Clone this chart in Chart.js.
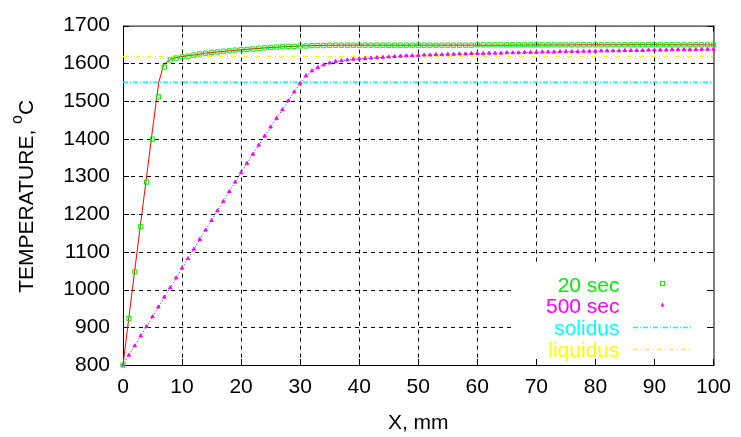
<!DOCTYPE html>
<html>
<head>
<meta charset="utf-8">
<title>Temperature profile</title>
<script src="https://cdn.jsdelivr.net/npm/chart.js@4.4.1/dist/chart.umd.min.js"></script>
<style>
    html, body { margin: 0; padding: 0; background: #fff; }
    #chart { display: block; }
</style>
</head>
<body>
<canvas id="chart" width="741" height="437"></canvas>
<script>
// Distance from the surface, mm (one reading per mm)
const positions = [
    0, 1, 2, 3, 4, 5, 6, 7, 8, 9,
    10, 11, 12, 13, 14, 15, 16, 17, 18, 19,
    20, 21, 22, 23, 24, 25, 26, 27, 28, 29,
    30, 31, 32, 33, 34, 35, 36, 37, 38, 39,
    40, 41, 42, 43, 44, 45, 46, 47, 48, 49,
    50, 51, 52, 53, 54, 55, 56, 57, 58, 59,
    60, 61, 62, 63, 64, 65, 66, 67, 68, 69,
    70, 71, 72, 73, 74, 75, 76, 77, 78, 79,
    80, 81, 82, 83, 84, 85, 86, 87, 88, 89,
    90, 91, 92, 93, 94, 95, 96, 97, 98, 99, 100
];

// Temperature after 20 sec, deg C
const temp20s = [
    800, 923, 1047, 1167, 1285, 1399, 1511, 1590, 1609, 1614,
    1617, 1619, 1622, 1625, 1627, 1629, 1630, 1632, 1633, 1635,
    1636, 1637, 1638, 1640, 1641, 1642, 1643, 1644, 1645, 1645,
    1646, 1646, 1647, 1647, 1647, 1648, 1648, 1648, 1648, 1648,
    1648, 1648, 1648, 1648, 1648, 1648, 1648, 1648, 1648, 1648,
    1648, 1648, 1648, 1648, 1648, 1648, 1648, 1648, 1648, 1648,
    1649, 1649, 1649, 1649, 1649, 1649, 1649, 1649, 1649, 1649,
    1649, 1649, 1649, 1649, 1649, 1649, 1649, 1649, 1649, 1649,
    1649, 1649, 1649, 1649, 1649, 1649, 1649, 1649, 1649, 1649,
    1649, 1649, 1649, 1649, 1649, 1649, 1649, 1649, 1649, 1649, 1649
];

// Temperature after 500 sec, deg C
const temp500s = [
    800, 826, 851, 877, 902, 928, 954, 980, 1005, 1031,
    1057, 1082, 1107, 1133, 1158, 1183, 1209, 1234, 1260, 1285,
    1310, 1335, 1359, 1383, 1407, 1431, 1454, 1477, 1501, 1524,
    1547, 1567, 1580, 1589, 1596, 1601, 1605, 1607, 1609, 1611,
    1612, 1613, 1614, 1615, 1616, 1617, 1618, 1619, 1620, 1620,
    1621, 1622, 1622, 1623, 1623, 1624, 1624, 1625, 1625, 1626,
    1626, 1626, 1627, 1627, 1627, 1628, 1628, 1628, 1629, 1629,
    1629, 1630, 1630, 1630, 1631, 1631, 1631, 1631, 1632, 1632,
    1632, 1633, 1633, 1633, 1633, 1634, 1634, 1634, 1634, 1635,
    1635, 1635, 1635, 1636, 1636, 1636, 1636, 1636, 1637, 1637, 1637
];

// Calculated curve drawn through the 20 sec readings (red line)
const curve20sX = [0, 1, 2, 3, 4, 5, 6.05, 6.9, 8.1, 9, 10, 12, 14, 16, 18, 20, 25, 30, 35, 40, 60, 80, 100];
const curve20sT = [800, 926, 1052, 1177, 1300, 1424, 1549, 1597, 1611, 1615, 1618, 1622, 1627, 1630, 1633, 1636, 1642, 1646, 1648, 1648, 1648, 1649, 1649];

// Phase change temperatures
const solidusTemp = 1550;
const liquidusTemp = 1618;

// Axis ticks
const xTicks = [0, 10, 20, 30, 40, 50, 60, 70, 80, 90, 100];
const yTicks = [800, 900, 1000, 1100, 1200, 1300, 1400, 1500, 1600, 1700];

const FONT = "'Liberation Sans', Arial, Helvetica, sans-serif";

// Build {x, y} pairs for the scatter chart
function toPoints(xs, ys) {
    return xs.map((v, i) => ({ x: v, y: ys[i] }));
}

function flatLine(temp) {
    return [{ x: xTicks[0], y: temp }, { x: xTicks[xTicks.length - 1], y: temp }];
}

// Grid, frame and inward tick marks like gnuplot
const frame = {
    id: 'frame',
    beforeDatasetsDraw(chart) {
        const { ctx, chartArea: a, scales: { x, y } } = chart;
        ctx.save();
        ctx.strokeStyle = '#000';
        ctx.lineWidth = 1;

        // dashed grid
        ctx.setLineDash([4, 4]);
        ctx.beginPath();
        xTicks.slice(1, -1).forEach(v => {
            const px = Math.round(x.getPixelForValue(v)) + 0.5;
            ctx.moveTo(px, a.top);
            ctx.lineTo(px, a.bottom);
        });
        yTicks.slice(1, -1).forEach(v => {
            const py = Math.round(y.getPixelForValue(v)) + 0.5;
            ctx.moveTo(a.left, py);
            ctx.lineTo(a.right, py);
        });
        ctx.stroke();

        // the key box hides the grid behind it
        ctx.fillStyle = '#fff';
        ctx.fillRect(514, 265, 189, 93);

        // tick marks on all four sides
        ctx.setLineDash([]);
        ctx.beginPath();
        xTicks.forEach(v => {
            const px = Math.round(x.getPixelForValue(v)) + 0.5;
            ctx.moveTo(px, a.bottom);
            ctx.lineTo(px, a.bottom - 6);
            ctx.moveTo(px, a.top);
            ctx.lineTo(px, a.top + 6);
        });
        yTicks.forEach(v => {
            const py = Math.round(y.getPixelForValue(v)) + 0.5;
            ctx.moveTo(a.left, py);
            ctx.lineTo(a.left + 6, py);
            ctx.moveTo(a.right, py);
            ctx.lineTo(a.right - 6, py);
        });
        ctx.stroke();

        // border
        ctx.strokeRect(a.left + 0.5, a.top + 0.5, a.right - a.left, a.bottom - a.top);
        ctx.restore();
    },

    afterDatasetsDraw(chart) {
        const { ctx } = chart;
        const ds = chart.data.datasets;
        ctx.save();
        ctx.font = '21px ' + FONT;
        ctx.textAlign = 'right';
        ctx.textBaseline = 'alphabetic';

        // key: text right aligned, sample on the right
        const rows = [
            { text: ds[0].label, color: ds[0].pointBorderColor, base: 291.5, mid: 283.5 },
            { text: ds[1].label, color: ds[1].pointBackgroundColor, base: 313.3, mid: 305 },
            { text: ds[4].label, color: ds[4].borderColor, base: 335, mid: 327.5 },
            { text: ds[5].label, color: ds[5].borderColor, base: 356.7, mid: 349.5 }
        ];
        rows.forEach(r => {
            ctx.fillStyle = r.color;
            ctx.fillText(r.text, 619.5, r.base);
        });

        // 20 sec sample: open square
        ctx.strokeStyle = rows[0].color;
        ctx.lineWidth = 1;
        ctx.strokeRect(660.5, 281.5, 4, 4);

        // 500 sec sample: small triangle
        ctx.fillStyle = rows[1].color;
        ctx.beginPath();
        ctx.moveTo(662.5, 302.5);
        ctx.lineTo(664.5, 306.5);
        ctx.lineTo(660.5, 306.5);
        ctx.closePath();
        ctx.fill();

        // solidus / liquidus samples
        [4, 5].forEach((k, i) => {
            const r = rows[2 + i];
            ctx.strokeStyle = r.color;
            ctx.lineWidth = ds[k].borderWidth;
            ctx.setLineDash(ds[k].borderDash);
            ctx.beginPath();
            ctx.moveTo(633, r.mid);
            ctx.lineTo(691, r.mid);
            ctx.stroke();
        });
        ctx.restore();
    },

    afterDraw(chart) {
        const { ctx, chartArea: a } = chart;
        ctx.save();
        ctx.fillStyle = '#000';
        ctx.font = '21px ' + FONT;

        // x axis title
        ctx.textAlign = 'center';
        ctx.textBaseline = 'alphabetic';
        ctx.fillText('X, mm', (a.left + a.right) / 2, 429);

        // y axis title with superscript o
        const main = 'TEMPERATURE, ';
        const sup = 'o';
        const last = 'C';
        const wMain = ctx.measureText(main).width;
        const wLast = ctx.measureText(last).width;
        ctx.font = '16px ' + FONT;
        const wSup = ctx.measureText(sup).width;
        const total = wMain + wSup + wLast;

        ctx.translate(0, (a.top + a.bottom) / 2 + 1);
        ctx.rotate(-Math.PI / 2);
        ctx.textAlign = 'left';
        let pos = -total / 2;
        ctx.font = '21px ' + FONT;
        ctx.fillText(main, pos, 33);
        pos += wMain;
        ctx.font = '16px ' + FONT;
        ctx.fillText(sup, pos, 22);
        pos += wSup;
        ctx.font = '21px ' + FONT;
        ctx.fillText(last, pos, 33);
        ctx.restore();
    }
};

function createChart() {
    const ctx = document.getElementById('chart').getContext('2d');

    new Chart(ctx, {
        type: 'scatter',
        data: {
            datasets: [
                {
                    label: '20 sec',
                    data: toPoints(positions, temp20s),
                    showLine: false,
                    pointStyle: 'rect',
                    pointRadius: 3,
                    pointBorderWidth: 1,
                    pointBorderColor: '#00ee00',
                    pointBackgroundColor: 'rgba(0,0,0,0)',
                    clip: false
                },
                {
                    label: '500 sec',
                    data: toPoints(positions, temp500s),
                    showLine: false,
                    pointStyle: 'triangle',
                    pointRadius: 2,
                    pointBorderWidth: 1,
                    pointBorderColor: '#ff00ff',
                    pointBackgroundColor: '#ff00ff',
                    clip: false
                },
                {
                    label: '20 sec curve',
                    data: toPoints(curve20sX, curve20sT),
                    showLine: true,
                    borderColor: '#ff0000',
                    borderWidth: 1,
                    pointRadius: 0,
                    tension: 0
                },
                {
                    label: '500 sec curve',
                    data: toPoints(positions, temp500s),
                    showLine: true,
                    borderColor: '#2020ff',
                    borderWidth: 1,
                    borderDash: [1, 2],
                    pointRadius: 0,
                    tension: 0
                },
                {
                    label: 'solidus',
                    data: flatLine(solidusTemp),
                    showLine: true,
                    borderColor: '#00ffff',
                    borderWidth: 1.5,
                    borderDash: [5, 2, 1, 2],
                    pointRadius: 0
                },
                {
                    label: 'liquidus',
                    data: flatLine(liquidusTemp),
                    showLine: true,
                    borderColor: '#ffff00',
                    borderWidth: 1.5,
                    borderDash: [5, 3, 1, 3],
                    pointRadius: 0
                }
            ]
        },
        options: {
            responsive: false,
            animation: false,
            devicePixelRatio: 1,
            layout: { padding: { top: 16, right: 23, left: 0, bottom: 0 } },
            plugins: {
                legend: { display: false },
                tooltip: { enabled: false }
            },
            scales: {
                x: {
                    type: 'linear',
                    min: xTicks[0],
                    max: xTicks[xTicks.length - 1],
                    afterBuildTicks: scale => { scale.ticks = xTicks.map(v => ({ value: v })); },
                    afterFit: scale => { scale.height = 72; },
                    grid: { display: false, drawTicks: false },
                    border: { display: false },
                    ticks: {
                        autoSkip: false,
                        maxRotation: 0,
                        padding: 10,
                        color: '#000',
                        font: { family: FONT, size: 21, lineHeight: 1.2 },
                        callback: v => String(v)
                    }
                },
                y: {
                    type: 'linear',
                    min: yTicks[0],
                    max: yTicks[yTicks.length - 1],
                    afterBuildTicks: scale => { scale.ticks = yTicks.map(v => ({ value: v })); },
                    afterFit: scale => { scale.width = 123; },
                    grid: { display: false, drawTicks: false },
                    border: { display: false },
                    ticks: {
                        autoSkip: false,
                        padding: 13,
                        color: '#000',
                        font: { family: FONT, size: 21, lineHeight: 1.2 },
                        callback: v => String(v)
                    }
                }
            }
        },
        plugins: [frame]
    });
}

document.addEventListener('DOMContentLoaded', createChart);
</script>
</body>
</html>
